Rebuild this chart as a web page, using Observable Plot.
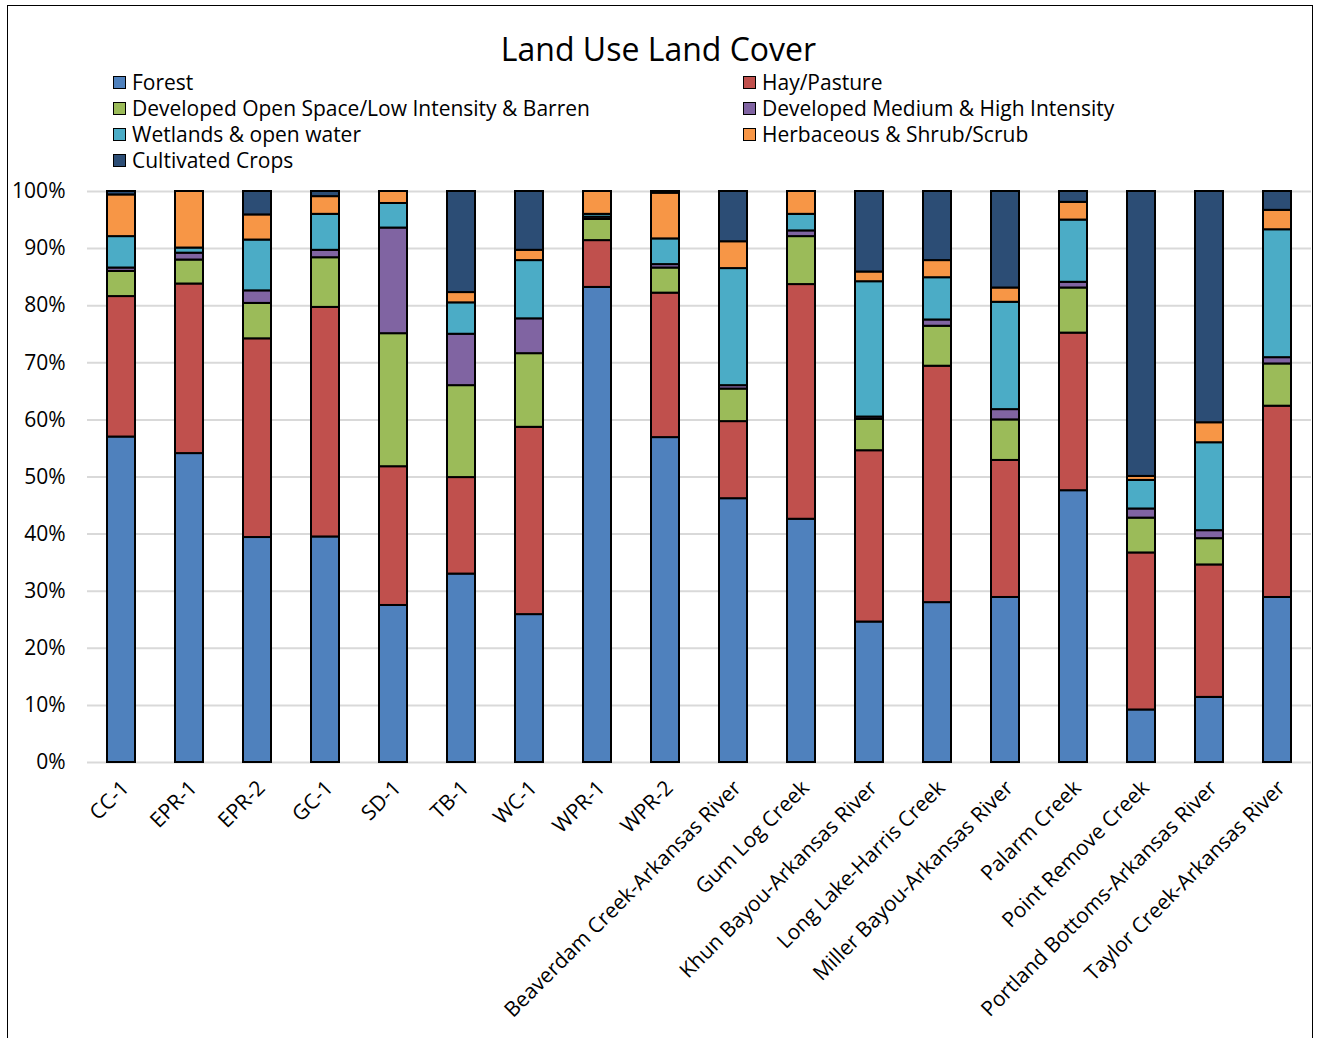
<!DOCTYPE html>
<html><head><meta charset="utf-8">
<script src="https://cdn.jsdelivr.net/npm/d3@7"></script>
<script src="https://cdn.jsdelivr.net/npm/@observablehq/plot@0.6"></script>
<style>
body{margin:0;background:#fff;font-family:"Open Sans",sans-serif;color:#000;}
#wrap{position:relative;width:1317px;height:1038px;overflow:hidden;}
#frame{position:absolute;left:7px;top:5px;width:1306px;height:1100px;border:1.5px solid #000;box-sizing:border-box;}
#title{position:absolute;left:0;width:1317px;top:28px;text-align:center;font-size:32px;line-height:42px;}
.leg{position:absolute;font-size:21px;line-height:26px;display:flex;align-items:center;white-space:nowrap;}
.sw{width:11px;height:11px;border:1.5px solid #000;margin-right:6px;flex:none;}
#chart{position:absolute;left:0;top:170px;}
</style></head>
<body>
<div id="wrap">
<div id="frame"></div>
<div id="title">Land Use Land Cover</div>
<div id="legend"></div>
<div id="chart"></div>
</div>
<script>
const sites = ["CC-1","EPR-1","EPR-2","GC-1","SD-1","TB-1","WC-1","WPR-1","WPR-2","Beaverdam Creek-Arkansas River","Gum Log Creek","Khun Bayou-Arkansas River","Long Lake-Harris Creek","Miller Bayou-Arkansas River","Palarm Creek","Point Remove Creek","Portland Bottoms-Arkansas River","Taylor Creek-Arkansas River"];
const types = ["Forest","Hay/Pasture","Developed Open Space/Low Intensity & Barren","Developed Medium & High Intensity","Wetlands & open water","Herbaceous & Shrub/Scrub","Cultivated Crops"];
const colors = ["#4F81BD","#C0504D","#9BBB59","#8064A2","#4BACC6","#F79646","#2C4D75"];
const forest   = [57.0,54.1,39.4,39.5,27.5,33.0,25.9,83.2,56.9,46.2,42.6,24.6,28.0,28.9,47.6, 9.2,11.4,28.9];
const hay      = [24.6,29.7,34.8,40.2,24.3,16.9,32.8, 8.2,25.3,13.5,41.1,30.0,41.4,24.0,27.6,27.5,23.2,33.5];
const devOpen  = [ 4.4, 4.2, 6.2, 8.7,23.3,16.1,12.9, 3.7, 4.4, 5.7, 8.4, 5.5, 7.0, 7.1, 7.9, 6.1, 4.6, 7.4];
const devMed   = [ 0.6, 1.2, 2.2, 1.3,18.5, 9.0, 6.1, 0.4, 0.6, 0.6, 1.0, 0.4, 1.1, 1.8, 1.0, 1.6, 1.4, 1.1];
const wetlands = [ 5.5, 0.9, 8.9, 6.3, 4.3, 5.5,10.2, 0.5, 4.5,20.5, 2.9,23.7, 7.4,18.8,10.9, 5.0,15.4,22.4];
const herb     = [ 7.3, 9.9, 4.4, 3.1, 2.1, 1.8, 1.8, 4.0, 8.0, 4.7, 4.0, 1.7, 3.0, 2.5, 3.1, 0.7, 3.5, 3.4];
const crops    = [ 0.6, 0.0, 4.1, 0.9, 0.0,17.7,10.3, 0.0, 0.3, 8.8, 0.0,14.1,12.1,16.9, 1.9,49.9,40.5, 3.3];
const yTicks = [0,10,20,30,40,50,60,70,80,90,100];

const series = [forest,hay,devOpen,devMed,wetlands,herb,crops];
const data = [];
sites.forEach((s,i)=>types.forEach((t,j)=>{ if (series[j][i] > 0) data.push({site:s,type:t,value:series[j][i]}); }));

// legend
const legPos = [[113,82],[743,82],[113,108],[743,108],[113,134],[743,134],[113,160]];
const leg = document.getElementById("legend");
types.forEach((t,j)=>{
  const d = document.createElement("div");
  d.className = "leg";
  d.style.left = legPos[j][0] + "px";
  d.style.top = (legPos[j][1]-13) + "px";
  d.innerHTML = `<span class="sw" style="background:${colors[j]}"></span><span>${t.replace(/&/g,"&amp;")}</span>`;
  leg.appendChild(d);
});

const chart = Plot.plot({
  width: 1317, height: 868,
  marginTop: 21, marginBottom: 276, marginLeft: 87, marginRight: 6,
  style: {fontFamily: "Open Sans", fontSize: "21px", color: "#000", background: "transparent"},
  x: {domain: sites, paddingInner: 0.59, paddingOuter: 0.295, label: null},
  y: {domain: [0,100], label: null},
  color: {domain: types, range: colors},
  marks: [
    Plot.gridY(yTicks, {stroke: "#d9d9d9", strokeOpacity: 1, strokeWidth: 2}),
    Plot.barY(data, {x: "site", y: "value", fill: "type", order: types, stroke: "#000", strokeWidth: 2}),
    Plot.axisY(yTicks, {tickSize: 0, tickPadding: 22, tickFormat: d => d + "%", fontSize: 21}),
    Plot.axisX({tickSize: 0, tickPadding: 22, tickRotate: -45, fontSize: 21, dx: 4})
  ]
});
document.getElementById("chart").appendChild(chart);
</script>
</body></html>
